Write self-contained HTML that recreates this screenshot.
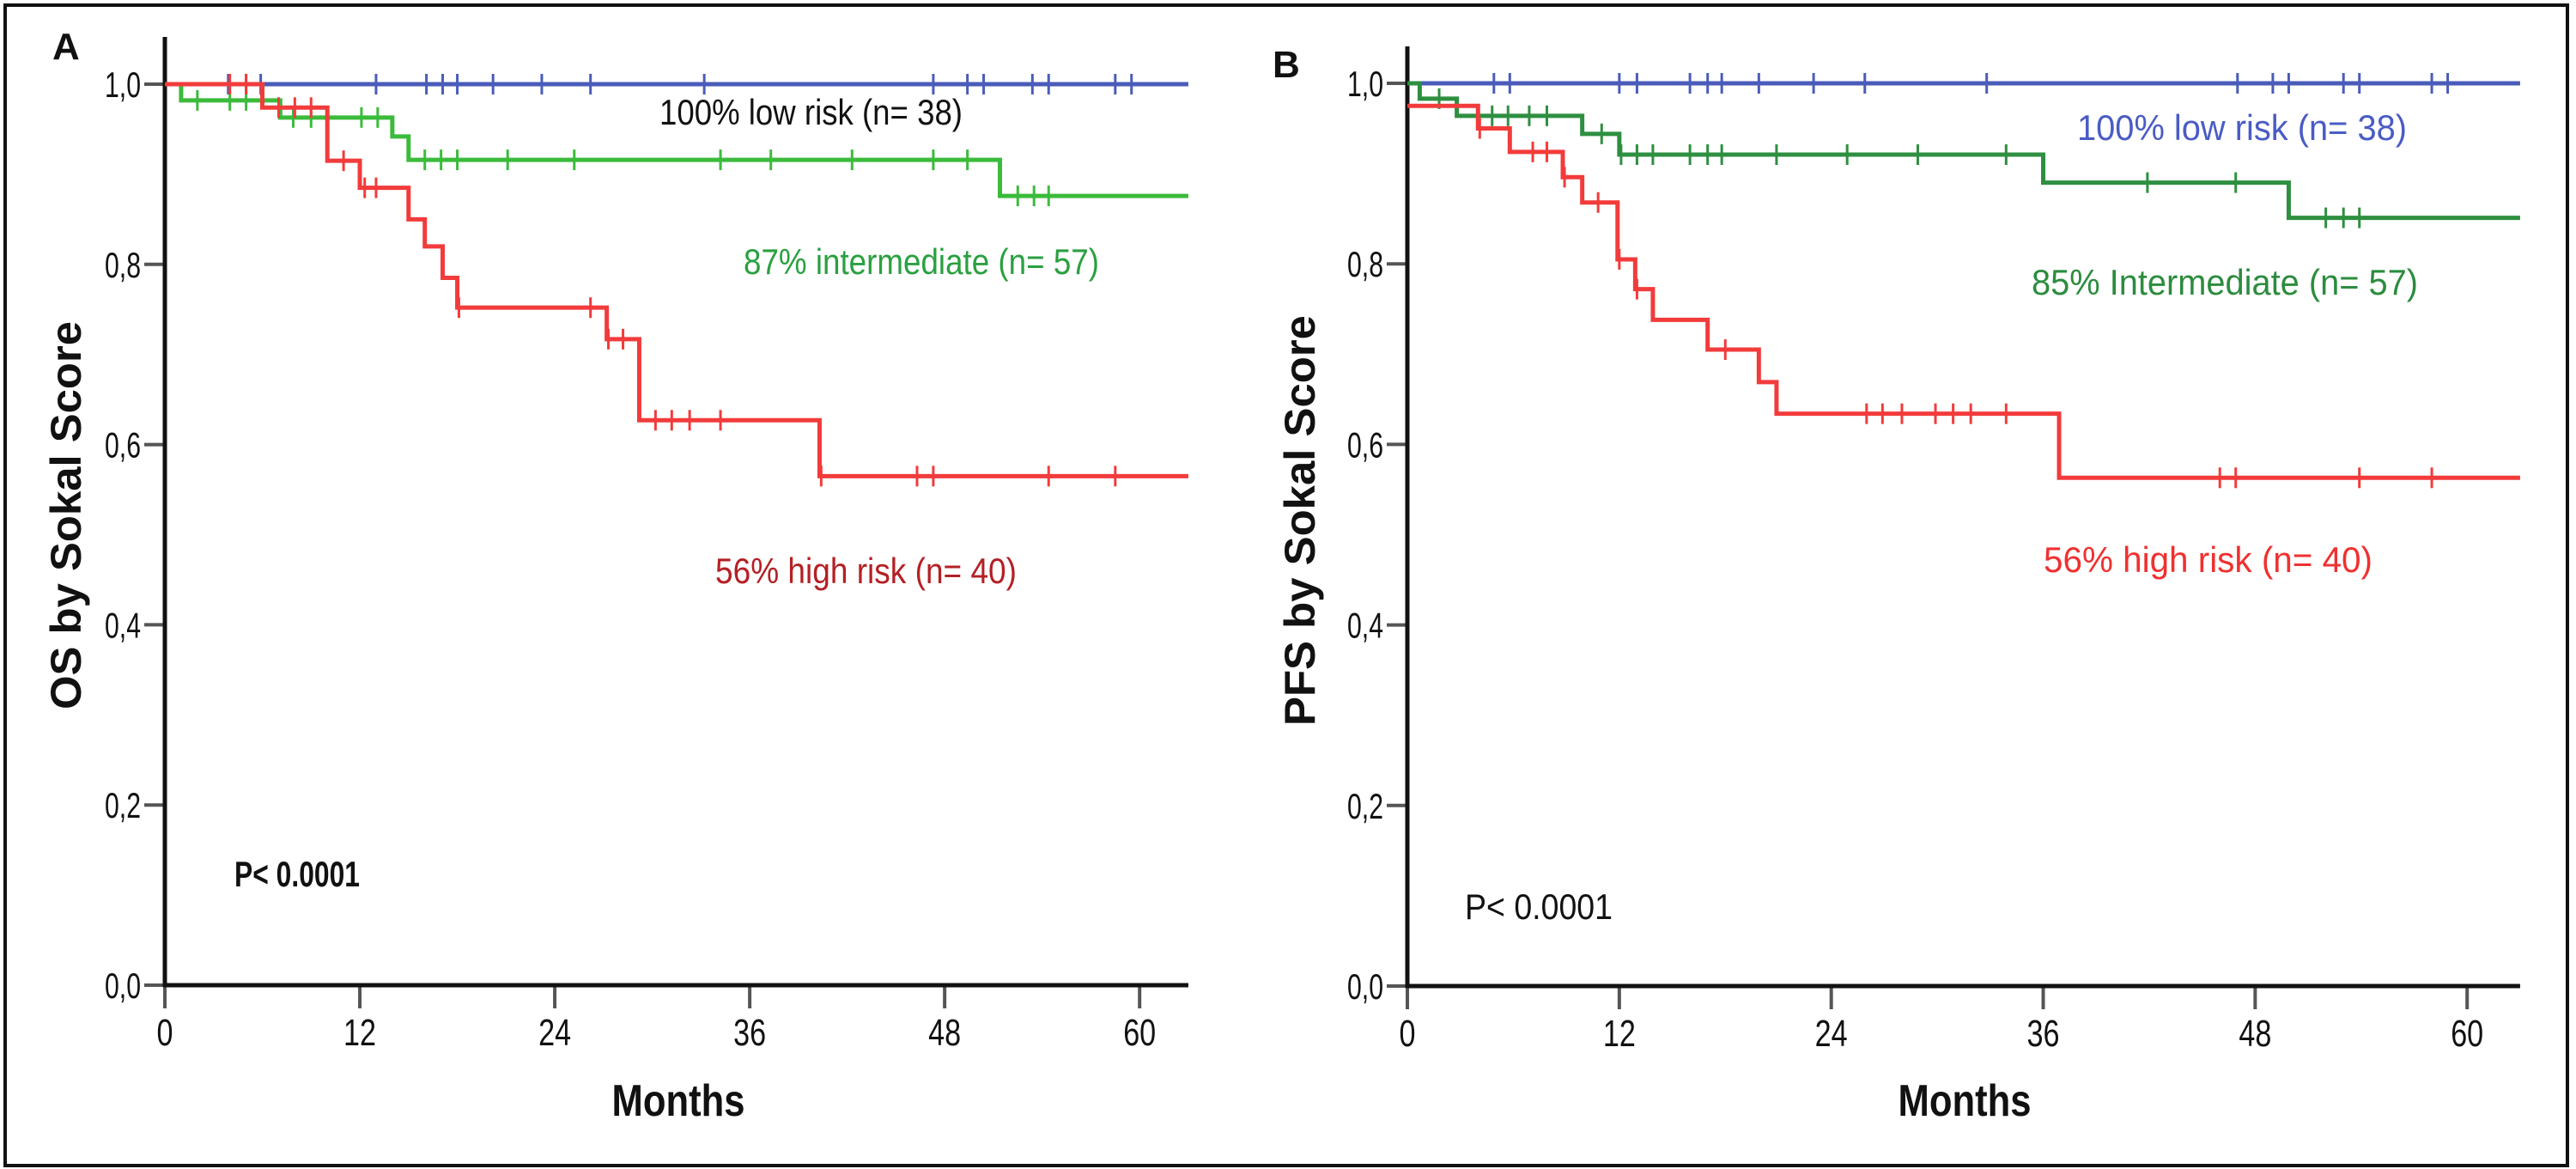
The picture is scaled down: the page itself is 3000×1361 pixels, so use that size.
<!DOCTYPE html>
<html><head><meta charset="utf-8">
<style>
html,body{margin:0;padding:0;background:#fff;}
svg{display:block;font-family:"Liberation Sans",Arial,sans-serif;}
</style></head>
<body>
<svg id="chart" width="3000" height="1361" viewBox="0 0 3000 1361" xmlns="http://www.w3.org/2000/svg">
<rect x="6" y="6" width="2984" height="1351" fill="#fff" stroke="#111" stroke-width="4"/>
</svg>
<script>
// ---------- data ----------
const xTicks = [0, 12, 24, 36, 48, 60];
const yTicks = [0, 0.2, 0.4, 0.6, 0.8, 1.0];
const yTickLabels = ["0,0", "0,2", "0,4", "0,6", "0,8", "1,0"];
const xMaxMonths = 63;

// Panel A (OS)
const aLowEvents = [];
const aLowValues = [];
const aLowCensors = [3.9,5.0,5.9,13.0,16.1,17.1,18.0,20.2,23.2,26.2,33.2,47.3,49.4,50.4,53.4,54.4,58.5,59.5];
const aIntEvents = [1.0, 7.1, 14.0, 15.0, 51.4];
const aIntValues = [0.982, 0.963, 0.942, 0.916, 0.876];
const aIntCensors = [2.0,4.0,5.0,7.9,9.0,10.0,12.1,13.1,16.0,17.0,18.0,21.1,25.2,34.2,37.3,42.3,47.3,49.4,52.5,53.5,54.4];
const aHighEvents = [6.0, 10.0, 12.0, 15.0, 16.0, 17.1, 18.0, 27.2, 29.2, 40.3];
const aHighValues = [0.974, 0.915, 0.885, 0.850, 0.820, 0.785, 0.752, 0.717, 0.627, 0.565];
const aHighCensors = [4.0,5.0,7.0,8.0,9.0,11.0,12.3,13.0,18.1,26.2,27.3,28.2,30.2,31.2,32.3,34.2,40.4,46.3,47.3,54.4,58.5];

// Panel B (PFS)
const bLowEvents = [];
const bLowValues = [];
const bLowCensors = [4.9,5.8,12.0,13.0,16.0,17.0,17.8,19.9,23.0,25.9,32.8,47.0,49.0,49.9,53.0,53.9,58.0,58.9];
const bIntEvents = [0.7, 2.8, 9.9, 12.0, 36.0, 49.9];
const bIntValues = [0.983, 0.964, 0.944, 0.921, 0.890, 0.851];
const bIntCensors = [1.8,4.8,5.7,6.9,7.9,11.0,12.1,13.0,13.9,16.0,17.0,17.8,20.9,24.9,28.9,33.9,41.9,46.9,52.0,53.0,53.9];
const bHighStart = 0.975;
const bHighEvents = [4.0, 5.8, 8.8, 9.9, 11.9, 12.9, 13.9, 17.0, 19.9, 20.9, 36.9];
const bHighValues = [0.950, 0.924, 0.896, 0.868, 0.805, 0.772, 0.738, 0.705, 0.669, 0.634, 0.563];
const bHighCensors = [4.1,7.1,7.9,8.9,10.8,12.0,13.0,18.0,26.0,26.9,28.0,29.9,30.9,31.9,33.9,46.0,46.9,53.9,58.0];

// ---------- drawing ----------
const NS = "http://www.w3.org/2000/svg";
const svg = document.getElementById("chart");
function mk(tag, attrs, parent, text) {
  const e = document.createElementNS(NS, tag);
  for (const k in attrs) e.setAttribute(k, attrs[k]);
  if (text !== undefined) e.textContent = text;
  (parent || svg).appendChild(e);
  return e;
}
function survAt(start, ev, vals, t) {
  let s = start;
  for (let i = 0; i < ev.length; i++) if (ev[i] <= t) s = vals[i];
  return s;
}

function drawPanel(p) {
  const g = mk("g", {});
  
  
  const X = m => p.x0 + m * p.pxPerMonth;
  const Y = v => p.y0 - v * (p.y0 - p.y1);

  const lbl = mk("text", {x: p.labelX, y: p.labelY, "font-size": 44, "font-weight": "bold", fill: "#111"}, g, p.label);
  
  

  // y ticks
  yTicks.forEach((v, i) => {
    const t = mk("line", {x1: p.x0 - 24, x2: p.x0, y1: Y(v), y2: Y(v), stroke: "#555", "stroke-width": 4}, g);
    
    
    const tl = mk("text", {x: p.x0 - 28, y: Y(v) + 15, "font-size": 42, "text-anchor": "end", fill: "#111", textLength: 42, lengthAdjust: "spacingAndGlyphs"}, g, yTickLabels[i]);
    
    
  });
  // x ticks
  xTicks.forEach(m => {
    const t = mk("line", {x1: X(m), x2: X(m), y1: p.y0, y2: p.y0 + 27, stroke: "#555", "stroke-width": 4}, g);
    
    
    const s = String(m);
    const tl = mk("text", {x: X(m), y: p.y0 + 70, "font-size": 44, "text-anchor": "middle", fill: "#111", textLength: s.length * 19, lengthAdjust: "spacingAndGlyphs"}, g, s);
    
    
  });
  // axes
  const ya = mk("line", {x1: p.x0, x2: p.x0, y1: p.yTop, y2: p.y0 + 2, stroke: "#111", "stroke-width": 5}, g);
  
  
  const xa = mk("line", {x1: p.x0 - 2, x2: X(xMaxMonths), y1: p.y0, y2: p.y0, stroke: "#111", "stroke-width": 5}, g);
  
  

  // series
  p.series.forEach(s => {
    let d = "M" + X(0) + "," + Y(s.start);
    let cur = s.start;
    s.ev.forEach((t, i) => {
      d += " H" + X(t) + " V" + Y(s.vals[i]);
      cur = s.vals[i];
    });
    d += " H" + X(xMaxMonths);
    const path = mk("path", {d: d, fill: "none", stroke: s.color, "stroke-width": 5, "stroke-linejoin": "miter"}, g);
    
    
    s.cens.forEach(t => {
      const v = survAt(s.start, s.ev, s.vals, t);
      const c = mk("line", {x1: X(t), x2: X(t), y1: Y(v) - 12, y2: Y(v) + 12, stroke: s.color, "stroke-width": 3}, g);
      
      
    });
  });

  // annotations
  p.notes.forEach(n => {
    const t = mk("text", {x: n.x, y: n.y, "font-size": 42, fill: n.color, textLength: n.w, lengthAdjust: "spacingAndGlyphs", "font-weight": n.bold ? "bold" : "normal"}, g, n.text);
    
    
  });

  // axis titles
  const cy = (p.yTop + p.y0) / 2 + 5;
  const yt = mk("text", {x: 0, y: 0, transform: "translate(" + p.yTitleX + "," + cy + ") rotate(-90)", "font-size": 50, "font-weight": "bold", "text-anchor": "middle", fill: "#111", textLength: p.yTitleLen, lengthAdjust: "spacingAndGlyphs"}, g, p.yTitle);
  
  
  const xt = mk("text", {x: p.xTitleX, y: 1299, "font-size": 52, "font-weight": "bold", "text-anchor": "middle", fill: "#111", textLength: 155, lengthAdjust: "spacingAndGlyphs"}, g, "Months");
  
  
}

drawPanel({
  id: "os", label: "A", labelX: 61, labelY: 69,
  x0: 192, pxPerMonth: 18.92, y0: 1147, y1: 98, yTop: 43,
  yTitle: "OS by Sokal Score", yTitleX: 94, yTitleLen: 452, xTitleX: 790,
  series: [
    {name: "low-risk", color: "#4a5cba", start: 1, ev: aLowEvents, vals: aLowValues, cens: aLowCensors},
    {name: "intermediate", color: "#3bbb3b", start: 1, ev: aIntEvents, vals: aIntValues, cens: aIntCensors},
    {name: "high-risk", color: "#f23b3b", start: 1, ev: aHighEvents, vals: aHighValues, cens: aHighCensors}
  ],
  notes: [
    {name: "low-risk-annotation", text: "100% low risk (n= 38)", x: 768, y: 145, w: 353, color: "#111"},
    {name: "intermediate-annotation", text: "87% intermediate (n= 57)", x: 866, y: 319, w: 414, color: "#2aa040"},
    {name: "high-risk-annotation", text: "56% high risk (n= 40)", x: 833, y: 679, w: 351, color: "#b42024"},
    {name: "p-value", text: "P< 0.0001", x: 273, y: 1032, w: 146, color: "#111", bold: true}
  ]
});

drawPanel({
  id: "pfs", label: "B", labelX: 1482, labelY: 90,
  x0: 1639, pxPerMonth: 20.57, y0: 1148, y1: 97, yTop: 54,
  yTitle: "PFS by Sokal Score", yTitleX: 1531, yTitleLen: 478, xTitleX: 2288,
  series: [
    {name: "low-risk", color: "#4a5cba", start: 1, ev: bLowEvents, vals: bLowValues, cens: bLowCensors},
    {name: "intermediate", color: "#2e8f40", start: 1, ev: bIntEvents, vals: bIntValues, cens: bIntCensors},
    {name: "high-risk", color: "#f23b3b", start: bHighStart, ev: bHighEvents, vals: bHighValues, cens: bHighCensors}
  ],
  notes: [
    {name: "low-risk-annotation", text: "100% low risk (n= 38)", x: 2419, y: 163, w: 384, color: "#4a5cc4"},
    {name: "intermediate-annotation", text: "85% Intermediate (n= 57)", x: 2366, y: 343, w: 450, color: "#2c8c3e"},
    {name: "high-risk-annotation", text: "56% high risk (n= 40)", x: 2380, y: 666, w: 383, color: "#f03030"},
    {name: "p-value", text: "P< 0.0001", x: 1706, y: 1070, w: 172, color: "#111"}
  ]
});
</script>
</body></html>
